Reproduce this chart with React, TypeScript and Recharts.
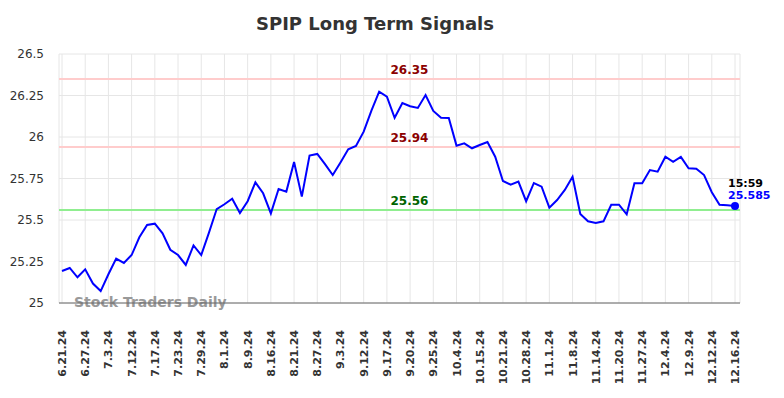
import React from "react";
import {
  LineChart,
  Line,
  XAxis,
  YAxis,
  CartesianGrid,
  ReferenceLine,
  Customized,
} from "recharts";

const tickLabels = [
  "6.21.24", "6.27.24", "7.3.24", "7.12.24", "7.17.24", "7.23.24", "7.29.24",
  "8.1.24", "8.9.24", "8.16.24", "8.21.24", "8.27.24", "9.3.24", "9.12.24",
  "9.17.24", "9.20.24", "9.25.24", "10.4.24", "10.15.24", "10.21.24",
  "10.28.24", "11.1.24", "11.8.24", "11.14.24", "11.20.24", "11.27.24",
  "12.4.24", "12.9.24", "12.12.24", "12.16.24",
];

const prices = [
  25.193, 25.211, 25.155, 25.203, 25.117, 25.072, 25.173, 25.267, 25.241, 25.289,
  25.396, 25.47, 25.478, 25.42, 25.321, 25.289, 25.229, 25.347, 25.289, 25.424,
  25.566, 25.595, 25.628, 25.542, 25.613, 25.727, 25.661, 25.54, 25.687, 25.671,
  25.849, 25.641, 25.888, 25.898, 25.837, 25.771, 25.847, 25.926, 25.946, 26.032,
  26.159, 26.273, 26.243, 26.116, 26.205, 26.185, 26.175, 26.253, 26.157, 26.116,
  26.114, 25.948, 25.962, 25.932, 25.952, 25.97, 25.881, 25.735, 25.713, 25.731,
  25.613, 25.723, 25.701, 25.574, 25.62, 25.681, 25.761, 25.536, 25.492, 25.482,
  25.492, 25.592, 25.592, 25.534, 25.721, 25.721, 25.801, 25.791, 25.881, 25.851,
  25.88, 25.811, 25.809, 25.771, 25.667, 25.592, 25.589, 25.585,
];

const yTicks = [25, 25.25, 25.5, 25.75, 26, 26.25, 26.5];
const resistanceHigh = 26.35;
const resistanceLow = 25.94;
const support = 25.56;
const lastTime = "15:59";

const FONT = "DejaVu Sans";
const STEP = 3; // a date label every 3 points

const chartData = prices.map((price, i) => ({ i, price }));
const xTicks = tickLabels.map((_, k) => k * STEP);

function fmtY(v: number): string {
  return String(v);
}

function XTick(props: any) {
  const { x, y, payload } = props;
  const label = tickLabels[Math.round(payload.value / STEP)] ?? "";
  return (
    <text
      transform={`translate(${x + 4},${y + 19}) rotate(-90)`}
      textAnchor="end"
      fontFamily={FONT}
      fontSize={11}
      fontWeight="bold"
      fill="#333"
    >
      {label}
    </text>
  );
}

function levelLabel(value: number, color: string) {
  return (p: any) => {
    const vb = p.viewBox || {};
    return (
      <text
        x={vb.x + vb.width / 2 + 10}
        y={vb.y - 5}
        textAnchor="middle"
        fontFamily={FONT}
        fontSize={12}
        fontWeight="bold"
        fill={color}
      >
        {value}
      </text>
    );
  };
}

function LastDot(props: any) {
  const { cx, cy, index, value } = props;
  if (index !== prices.length - 1) return <g key={index} />;
  return (
    <g key={index}>
      <circle cx={cx} cy={cy} r={4} fill="#0000ff" />
      <text x={cx - 7} y={cy - 19} fontFamily={FONT} fontSize={11} fontWeight="bold" fill="#000">
        {lastTime}
      </text>
      <text x={cx - 7} y={cy - 7} fontFamily={FONT} fontSize={11} fontWeight="bold" fill="#0000ff">
        {value}
      </text>
    </g>
  );
}

function Watermark(props: any) {
  const off = props.offset || { left: 59, top: 54, height: 249 };
  return (
    <text
      x={off.left + 15}
      y={off.top + off.height + 4}
      fontFamily={FONT}
      fontSize={14}
      fontWeight="bold"
      fill="#999"
    >
      Stock Traders Daily
    </text>
  );
}

export default function App() {
  return (
    <div style={{ position: "absolute", left: 0, top: 0, width: 784, height: 398, background: "#fff" }}>
      <div
        style={{
          position: "absolute",
          left: 0,
          top: 13,
          width: 750,
          textAlign: "center",
          fontFamily: FONT,
          fontSize: 18,
          fontWeight: "bold",
          color: "#333",
        }}
      >
        SPIP Long Term Signals
      </div>
      <LineChart
        width={784}
        height={398}
        data={chartData}
        margin={{ top: 54, right: 44, bottom: 0, left: 0 }}
      >
        <CartesianGrid stroke="#e6e6e6" strokeWidth={1} />
        <XAxis
          dataKey="i"
          type="number"
          domain={[0, prices.length - 1]}
          ticks={xTicks}
          interval={0}
          height={95}
          padding={{ left: 3, right: 5 }}
          tick={<XTick />}
          tickLine={false}
          axisLine={{ stroke: "#666", strokeWidth: 1 }}
        />
        <YAxis
          domain={[25, 26.5]}
          ticks={yTicks}
          width={59}
          axisLine={false}
          tickLine={false}
          tickSize={0}
          tickMargin={15}
          tickFormatter={fmtY}
          tick={{ fontFamily: FONT, fontSize: 12, fill: "#333" }}
        />
        <ReferenceLine y={resistanceHigh} stroke="#ffcccc" strokeWidth={2} label={levelLabel(resistanceHigh, "#8b0000")} />
        <ReferenceLine y={resistanceLow} stroke="#ffcccc" strokeWidth={2} label={levelLabel(resistanceLow, "#8b0000")} />
        <ReferenceLine y={support} stroke="#90ee90" strokeWidth={2} label={levelLabel(support, "#006400")} />
        <Customized component={Watermark} />
        <Line
          type="linear"
          dataKey="price"
          stroke="#0000ff"
          strokeWidth={2}
          dot={<LastDot />}
          activeDot={false}
          isAnimationActive={false}
        />
      </LineChart>
    </div>
  );
}
